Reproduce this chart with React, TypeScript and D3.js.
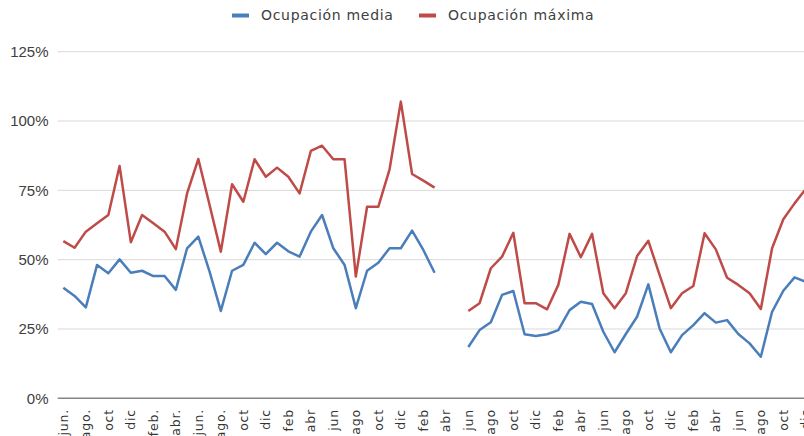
import React from 'react';
import * as d3 from 'd3';

// months on the category axis, starting in june (only every other one is labelled)
const months = [
  'jun.', 'jul.', 'ago.', 'sep.', 'oct', 'nov', 'dic', 'ene', 'feb.', 'mar.', 'abr.', 'may.',
  'jun.', 'jul.', 'ago.', 'sep.', 'oct', 'nov', 'dic', 'ene', 'feb', 'mar', 'abr', 'may',
  'jun', 'jul', 'ago', 'sep', 'oct', 'nov', 'dic', 'ene', 'feb', 'mar', 'abr', 'may',
  'jun', 'jul', 'ago', 'sep', 'oct', 'nov', 'dic', 'ene', 'feb', 'mar', 'abr', 'may',
  'jun', 'jul', 'ago', 'sep', 'oct', 'nov', 'dic', 'ene', 'feb', 'mar', 'abr', 'may',
  'jun', 'jul', 'ago', 'sep', 'oct', 'nov', 'dic'
];

// null = no data (gap in the line)
const ocupacionMedia = [
  39.9, 36.9, 32.8, 48.1, 45.1, 50.1, 45.3, 46.0, 44.1, 44.1, 39.1, 54.1,
  58.3, 45.7, 31.5, 46.0, 48.1, 56.1, 52.0, 56.1, 53.0, 51.1, 60.1, 66.1,
  54.1, 48.1, 32.5, 46.0, 48.9, 54.1, 54.1, 60.5, 53.5, 45.3, null, null,
  18.5, 24.6, 27.4, 37.3, 38.7, 23.1, 22.5, 23.1, 24.6, 31.8, 34.8, 34.0,
  24.0, 16.6, 23.2, 29.4, 41.1, 25.2, 16.6, 22.8, 26.4, 30.7, 27.3, 28.2,
  23.2, 19.8, 15.0, 31.2, 38.8, 43.6, 42
];

const ocupacionMaxima = [
  56.7, 54.3, 60.1, 63.1, 66.1, 83.8, 56.3, 66.1, 63.1, 60.1, 53.8, 73.9,
  86.3, 69.7, 52.9, 77.2, 70.9, 86.2, 79.9, 83.2, 79.9, 73.9, 89.2, 91.1,
  86.2, 86.2, 43.9, 69.1, 69.1, 82.6, 107.0, 80.9, 78.5, 76.0, null, null,
  31.5, 34.3, 46.9, 51.1, 59.7, 34.3, 34.3, 32.1, 40.9, 59.3, 50.9, 59.3,
  37.9, 32.5, 37.9, 51.3, 56.8, 44.5, 32.5, 37.9, 40.5, 59.5, 53.7, 43.5,
  40.9, 37.9, 32.2, 54.1, 64.6, 70.3, 75.5
];

const yTicks = [0, 25, 50, 75, 100, 125];

const series = [
  { name: 'Ocupación media', color: '#4a7ebb', values: ocupacionMedia },
  { name: 'Ocupación máxima', color: '#be4b48', values: ocupacionMaxima }
];

const width = 804;
const height = 436;

export default function App() {
  const x = d3.scaleBand<number>()
    .domain(months.map((_, i) => i))
    .range([57.7, 57.7 + months.length * 11.25])
    .padding(0);
  const y = d3.scaleLinear().domain([0, 125]).range([398.3, 51.7]);
  const cx = (i: number) => (x(i) as number) + x.bandwidth() / 2;

  const line = d3.line<number | null>()
    .defined(d => d !== null)
    .x((_, i) => cx(i))
    .y(d => y(d as number));

  const legendItems = [
    { sx: 232, tx: 261 },
    { sx: 419, tx: 448 }
  ];

  return (
    <svg width={width} height={height} style={{ position: 'absolute', left: 0, top: 0, background: '#fff' }}>
      {/* gridlines */}
      {yTicks.filter(t => t > 0).map(t => (
        <line key={t} x1={57.7} x2={width} y1={y(t)} y2={y(t)} stroke="#d9d9d9" strokeWidth={1} />
      ))}
      {/* y labels */}
      {yTicks.map(t => (
        <text key={t} x={48.5} y={y(t)} dy="0.35em" textAnchor="end"
          fontFamily="'Liberation Sans', Arial, sans-serif" fontSize={15} fill="#404040">
          {t + '%'}
        </text>
      ))}
      {/* x axis */}
      <line x1={57.7} x2={width} y1={y(0)} y2={y(0)} stroke="#868686" strokeWidth={1.5} />
      {months.map((m, i) => i % 2 === 0 ? (
        <text key={i} transform={`translate(${cx(i)},409) rotate(-90)`} dy="0.35em" textAnchor="end"
          fontFamily="'DejaVu Sans', sans-serif" fontSize={12.5} letterSpacing={0.8} fill="#333">
          {m}
        </text>
      ) : null)}
      {/* lines */}
      {series.map(s => (
        <path key={s.name} d={line(s.values) || ''} fill="none" stroke={s.color} strokeWidth={2.5}
          strokeLinejoin="round" />
      ))}
      {/* legend */}
      {series.map((s, i) => (
        <g key={s.name}>
          <line x1={legendItems[i].sx} x2={legendItems[i].sx + 17} y1={15.5} y2={15.5} stroke={s.color} strokeWidth={4} />
          <text x={legendItems[i].tx} y={15.5} dy="0.35em" fontFamily="'DejaVu Sans', sans-serif"
            fontSize={14} letterSpacing={0.7} fill="#404040">
            {s.name}
          </text>
        </g>
      ))}
    </svg>
  );
}
